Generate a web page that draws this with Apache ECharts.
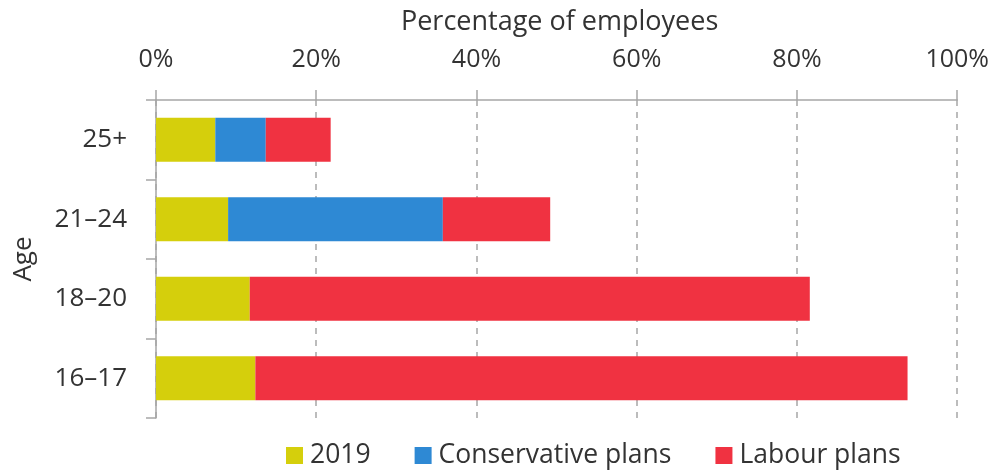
<!DOCTYPE html>
<html>
<head>
<meta charset="utf-8">
<script src="https://cdn.jsdelivr.net/npm/echarts@6/dist/echarts.min.js"></script>
<style>html,body{margin:0;padding:0;background:#fff}#c{width:992px;height:471px}</style>
</head>
<body>
<div id="c"></div>
<script>
const categories = ['16–17', '18–20', '21–24', '25+'];
const values2019 = [12.4, 11.7, 9.0, 7.4];
const conservativePlans = [0, 0, 26.8, 6.3];
const labourPlans = [81.4, 69.9, 13.4, 8.1];
const xTicks = [0, 20, 40, 60, 80, 100];

const FONT = 'Open Sans';
const TXT = '#333';
const AX = '#a6a6a6';

const chart = echarts.init(document.getElementById('c'), null, {renderer: 'canvas'});
chart.setOption({
  animation: false,
  textStyle: {fontFamily: FONT, color: TXT},
  grid: {left: 156, right: 34, top: 100, bottom: 53, containLabel: false},
  legend: {
    left: 286, top: 442, padding: 0,
    itemWidth: 17, itemHeight: 17, itemGap: 44,
    icon: 'rect',
    textStyle: {fontFamily: FONT, fontSize: 26.5, color: TXT, padding: [0, 0, 0, 2]},
    data: ['2019', 'Conservative plans', 'Labour plans']
  },
  xAxis: {
    type: 'value', position: 'top',
    min: xTicks[0], max: xTicks[xTicks.length - 1], interval: 20,
    name: 'Percentage of employees', nameLocation: 'middle', nameGap: 64,
    nameTextStyle: {fontFamily: FONT, fontSize: 27, color: TXT, padding: [0, 0, 0, 6]},
    axisLine: {show: true, lineStyle: {color: AX, width: 1.5}},
    axisTick: {show: true, length: 10, lineStyle: {color: AX, width: 1.5}},
    axisLabel: {fontFamily: FONT, fontSize: 25, color: TXT, margin: 28, formatter: '{value}%'},
    splitLine: {show: true, lineStyle: {color: AX, type: [6, 6], width: 1.5}}
  },
  yAxis: {
    type: 'category', data: categories,
    name: 'Age', nameLocation: 'middle', nameGap: 119, nameRotate: 90,
    nameTextStyle: {fontFamily: FONT, fontSize: 26, color: TXT},
    axisLine: {show: true, lineStyle: {color: AX, width: 1.5}},
    axisTick: {show: true, length: 10, lineStyle: {color: AX, width: 1.5}},
    axisLabel: {fontFamily: FONT, fontSize: 26, color: TXT, margin: 29},
    splitLine: {show: false}
  },
  series: [
    {name: '2019', type: 'bar', stack: 'a', barWidth: 44, data: values2019, itemStyle: {color: '#D5CF0C'}},
    {name: 'Conservative plans', type: 'bar', stack: 'a', barWidth: 44, data: conservativePlans, itemStyle: {color: '#2E89D4'}},
    {name: 'Labour plans', type: 'bar', stack: 'a', barWidth: 44, data: labourPlans, itemStyle: {color: '#F03241'}}
  ]
});
</script>
</body>
</html>
